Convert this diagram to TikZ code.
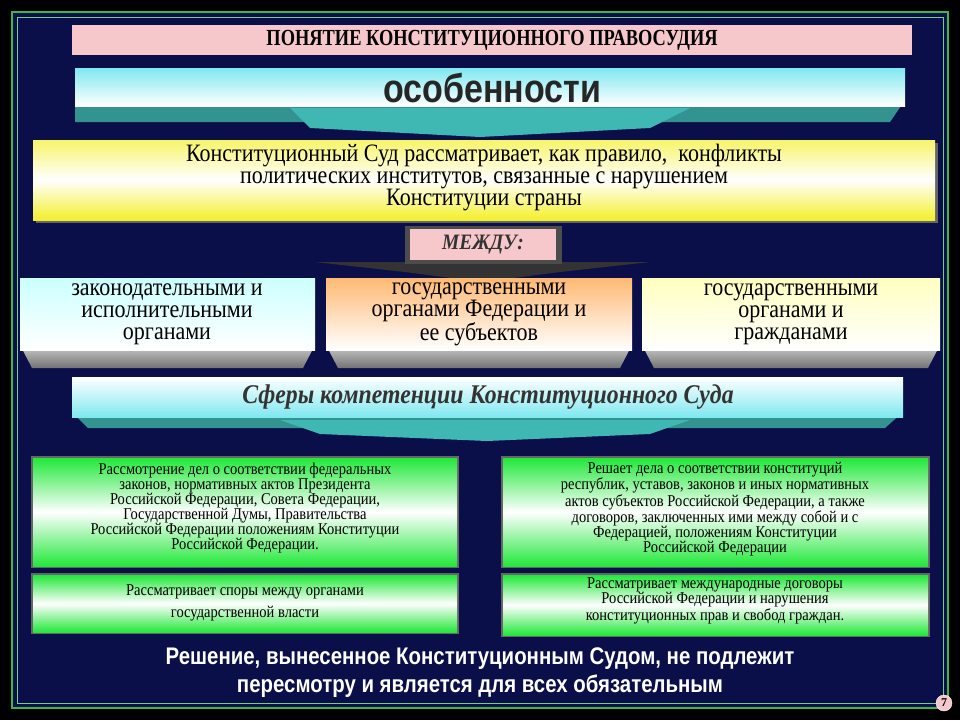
\documentclass[tikz,border=0pt]{standalone}
\usepackage{fontspec}
\setmainfont{Liberation Serif}
\newfontfamily\cond[FakeStretch=0.88]{Liberation Serif}
\newfontfamily\titlefont[FakeStretch=0.8]{Liberation Serif}
\newfontfamily\hsans{Liberation Sans}
\newfontfamily\hsanscond[FakeStretch=0.85]{Liberation Sans}
\usetikzlibrary{shadows}
\definecolor{navy}{HTML}{0A0F4A}
\definecolor{bordg}{HTML}{3CB84A}
\definecolor{pinkb}{HTML}{F6C8CC}
\definecolor{teal1}{HTML}{3FB8B4}
\definecolor{cyan1}{HTML}{7FE8F0}
\definecolor{yel}{HTML}{F4F02A}
\definecolor{grn}{HTML}{22E83A}
\tikzset{
  txt/.style={align=center,inner sep=0pt,text=black},
}
\begin{document}
\begin{tikzpicture}[x=1pt,y=-1pt]
\useasboundingbox (0,0) rectangle (960,720);
\fill[black] (0,0) rectangle (960,720);
\fill[navy] (12,12) rectangle (948,708);
\draw[bordg,line width=2pt] (12,12) rectangle (948,708);
\draw[bordg!70,line width=1pt] (17,17) rectangle (943,703);
% title
\fill[pinkb] (72,25) rectangle (912,55);
\node[txt,font=\titlefont\bfseries\fontsize{23}{24}\selectfont] (title) at (492,40) {ПОНЯТИЕ КОНСТИТУЦИОННОГО ПРАВОСУДИЯ};
% osobennosti banner
\fill[teal1!80!black] (75,100) -- (905,100) -- (890,122) -- (75,122) -- cycle;
\fill[teal1] (290,108) -- (690,108) -- (650,128) -- (480,137) -- (310,128) -- cycle;
\shade[top color=cyan1,bottom color=white] (75,68) rectangle (905,106);
\node[txt,font=\hsanscond\bfseries\fontsize{40}{40}\selectfont,text=black!85] (osob) at (492,88) {особенности};
% yellow box
\fill[black!60] (36,143) rectangle (938,223);
\shade[top color=yel!70,bottom color=yel,middle color=white] (33,140) rectangle (935,220);
\node[txt,font=\cond\fontsize{25}{22}\selectfont] (kon) at (484,178) {Конституционный Суд рассматривает, как правило,\ \ конфликты\\ политических институтов, связанные с нарушением\\ Конституции страны};
% mezhdu
\fill[black!80] (315,262) -- (650,262) -- (560,272) -- (482,282) -- (405,272) -- cycle;
\fill[black!70] (405,226) rectangle (562,264);
\fill[pinkb] (410,229) rectangle (556,260);
\node[txt,font=\cond\bfseries\itshape\fontsize{22}{22}\selectfont,text=black!80] (mezhdu) at (483,245) {МЕЖДУ:};
% three boxes
\foreach \xa/\xb/\col/\nm in {20/315/cyan!20/a,326/632/orange!55/b,642/940/yellow!25/c}{
  \shade[top color=black!20,bottom color=black!55] (\xa,345) -- (\xb,345) -- (\xb-12,368) -- (\xa+12,368) -- cycle;
  \shade[top color=\col,bottom color=white] (\xa,278) rectangle (\xb,350);
}
\node[txt,font=\cond\fontsize{25}{22}\selectfont] (z1) at (167,314) {законодательными и\\ исполнительными\\ органами};
\node[txt,font=\cond\fontsize{25}{22}\selectfont] (z2) at (479,314) {государственными\\ органами Федерации и\\ ее субъектов};
\node[txt,font=\cond\fontsize{25}{22}\selectfont] (z3) at (791,314) {государственными\\ органами и\\ гражданами};
% spheres banner
\fill[teal1!80!black] (72,412) -- (903,412) -- (885,428) -- (88,428) -- cycle;
\fill[teal1] (280,420) -- (690,420) -- (650,434) -- (487,441) -- (320,434) -- cycle;
\shade[top color=white,bottom color=cyan1] (72,377) rectangle (903,417);
\node[txt,font=\cond\bfseries\itshape\fontsize{27}{27}\selectfont,text=black!80] (sf) at (488,397) {Сферы компетенции Конституционного Суда};
% green boxes
\foreach \xa/\ya/\xb/\yb in {33/458/457/566,503/458/928/566,33/575/457/632,503/575/928/635}{
  \fill[black!60] (\xa-2,\ya-2) rectangle (\xb+2,\yb+2);
  \shade[top color=grn,bottom color=grn,middle color=white] (\xa,\ya) rectangle (\xb,\yb);
}
\node[txt,font=\cond\fontsize{16.5}{15}\selectfont] (g1) at (245,508) {Рассмотрение дел о соответствии федеральных\\ законов, нормативных актов Президента\\ Российской Федерации, Совета Федерации,\\ Государственной Думы, Правительства\\ Российской Федерации положениям Конституции\\ Российской Федерации.};
\node[txt,font=\cond\fontsize{16.5}{15}\selectfont] (g2) at (715,509) {Решает дела о соответствии конституций\\ республик, уставов, законов и иных нормативных\\ актов субъектов Российской Федерации, а также\\ договоров, заключенных ими между собой и с\\ Федерацией, положениям Конституции\\ Российской Федерации};
\node[txt,font=\cond\fontsize{16.5}{22}\selectfont] (g3) at (245,603) {Рассматривает споры между органами\\ государственной власти};
\node[txt,font=\cond\fontsize{16.5}{15}\selectfont] (g4) at (715,601) {Рассматривает международные договоры\\ Российской Федерации и нарушения\\ конституционных прав и свобод граждан.};
% bottom text
\node[txt,font=\hsanscond\bfseries\fontsize{24}{28}\selectfont,text=white] (bot) at (480,673) {Решение, вынесенное Конституционным Судом, не подлежит\\ пересмотру и является для всех обязательным};
% badge
\node[circle,fill=pinkb,draw=white,inner sep=1pt,minimum size=16,font=\bfseries\fontsize{12}{12}\selectfont] (badge) at (944,703) {7};
\end{tikzpicture}
\end{document}
